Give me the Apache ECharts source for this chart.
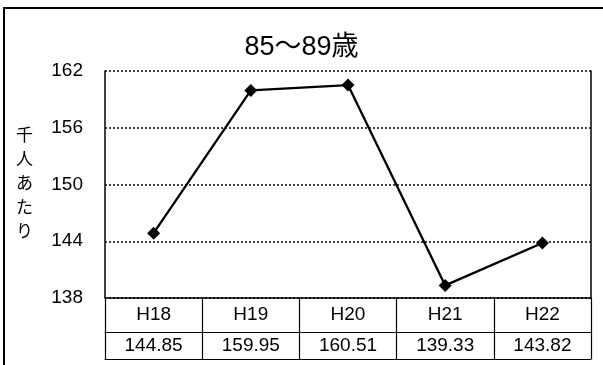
<!DOCTYPE html>
<html>
<head>
<meta charset="utf-8">
<script src="https://cdn.jsdelivr.net/npm/echarts@6/dist/echarts.min.js"></script>
<style>
  html, body { margin: 0; padding: 0; background: #fff; }
  #chart { width: 603px; height: 365px; }
</style>
</head>
<body>
<div id="chart"></div>
<script>
const chartTitle = '85〜89歳';
const axisName = '千人あたり';
const categories = ['H18', 'H19', 'H20', 'H21', 'H22'];
const values = [144.85, 159.95, 160.51, 139.33, 143.82];
const yTicks = [138, 144, 150, 156, 162];

const font = '"Liberation Sans", Arial, "Noto Sans CJK JP", sans-serif';
const black = '#000';

const chart = echarts.init(document.getElementById('chart'), null, { renderer: 'canvas' });

chart.setOption({
  animation: false,
  backgroundColor: '#fff',
  textStyle: { fontFamily: font, color: black },
  title: {
    text: chartTitle,
    left: 'center',
    top: 29,
    textStyle: { fontFamily: font, fontSize: 27, fontWeight: 'normal', color: black }
  },
  // outer frame (right and bottom edges fall outside the picture)
  graphic: [{
    type: 'rect',
    shape: { x: 4, y: 8, width: 700, height: 400 },
    style: { fill: 'none', stroke: black, lineWidth: 2 },
    silent: true
  }],
  grid: { left: 105, right: 12, top: 71, bottom: 67 },
  xAxis: [
    {
      // header row of the data table
      type: 'category',
      data: categories,
      position: 'bottom',
      axisLine: { lineStyle: { color: black, width: 1.5 } },
      axisTick: { show: true, length: 61, lineStyle: { color: black, width: 1.2 } },
      axisLabel: { color: black, fontSize: 19, fontFamily: font, margin: 7 }
    },
    {
      // value row
      type: 'category',
      data: categories,
      position: 'bottom',
      offset: 34,
      axisLine: { lineStyle: { color: black, width: 1.2 } },
      axisTick: { show: false },
      axisLabel: {
        color: black, fontSize: 19, fontFamily: font, margin: 4,
        formatter: (v, i) => values[i].toFixed(2)
      }
    },
    {
      type: 'category',
      data: categories,
      position: 'bottom',
      offset: 61,
      axisLine: { lineStyle: { color: black, width: 1.2 } },
      axisTick: { show: false },
      axisLabel: { show: false }
    }
  ],
  yAxis: [
    {
      type: 'value',
      min: yTicks[0],
      max: yTicks[yTicks.length - 1],
      interval: yTicks[1] - yTicks[0],
      name: axisName.split('').join('\n'),
      nameLocation: 'middle',
      nameGap: 72,
      nameRotate: 0,
      nameTextStyle: { color: black, fontSize: 17, fontFamily: font, lineHeight: 24 },
      axisLine: { show: true, lineStyle: { color: black, width: 1.5 } },
      axisTick: { show: false },
      axisLabel: { color: black, fontSize: 19, fontFamily: font, margin: 22 },
      splitLine: { show: true, lineStyle: { color: black, width: 1.5, type: [2, 2] } }
    },
    {
      type: 'value',
      position: 'right',
      min: yTicks[0],
      max: yTicks[yTicks.length - 1],
      interval: yTicks[1] - yTicks[0],
      axisLine: { show: true, lineStyle: { color: black, width: 1.5 } },
      axisTick: { show: false },
      axisLabel: { show: false },
      splitLine: { show: false }
    }
  ],
  series: [{
    type: 'line',
    data: values,
    xAxisIndex: 0,
    yAxisIndex: 0,
    symbol: 'diamond',
    symbolSize: 13,
    itemStyle: { color: black },
    lineStyle: { color: black, width: 2.3 }
  }]
});
</script>
</body>
</html>
